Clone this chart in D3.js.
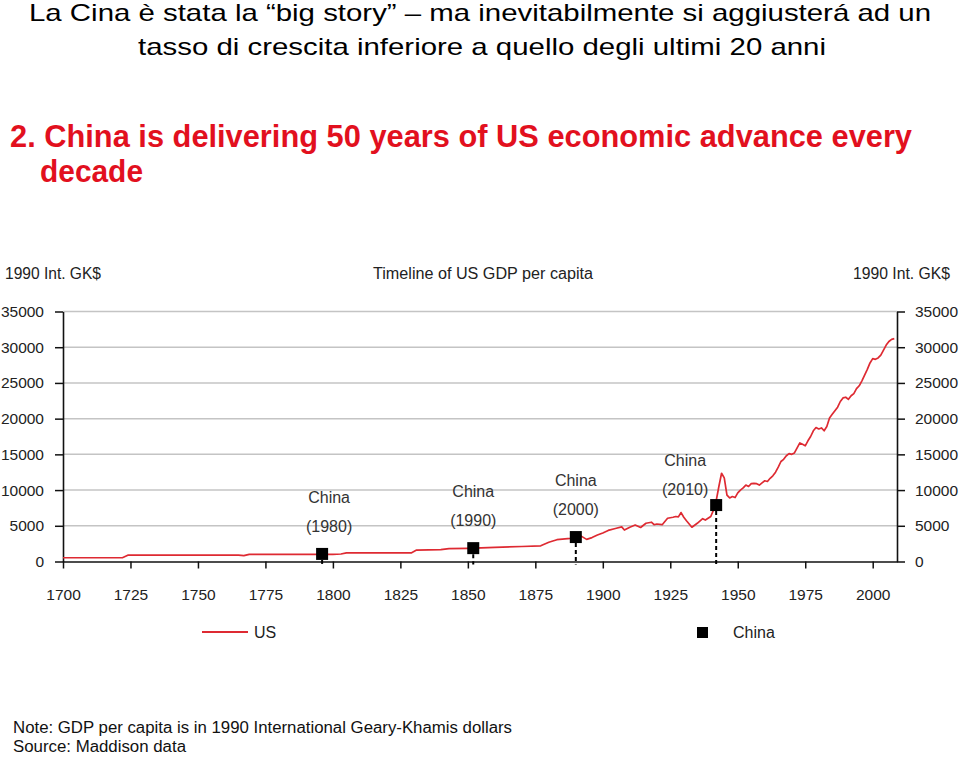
<!DOCTYPE html>
<html>
<head>
<meta charset="utf-8">
<script src="https://cdn.jsdelivr.net/npm/d3@7"></script>
<style>
  html, body { margin: 0; padding: 0; background: #fff; }
  svg { display: block; }
  text { font-family: "Liberation Sans", Arial, sans-serif; }
</style>
</head>
<body>
<svg id="chart" width="960" height="759"></svg>
<script>
// ---------- DATA ----------
const usYears = [1700,1722,1724,1765,1767,1769,1800,1803,1805,1829,1831,1840,1843,1850,1860,1870,1877,1880,1883,1888,1890,1892,1894,1896,1898,1900,1902,1905,1907,1908,1910,1912,1914,1916,1918,1919,1920,1922,1924,1926,1927,1928,1929,1930,1931,1933,1935,1937,1938,1940,1941,1942,1943,1944,1945,1946,1947,1948,1949,1950,1951,1952,1953,1954,1955,1956,1957,1958,1959,1960,1961,1962,1963,1964,1965,1966,1967,1968,1969,1970,1971,1972,1973,1974,1975,1976,1977,1978,1979,1980,1981,1982,1983,1984,1985,1986,1987,1988,1989,1990,1991,1992,1993,1994,1995,1996,1997,1998,1999,2000,2001,2002,2003,2004,2005,2006,2007,2008];
const usGdp = [527,527,880,880,820,1000,1000,1050,1200,1200,1600,1650,1800,1850,1990,2100,2200,2700,3050,3250,3400,3550,3100,3350,3700,4000,4350,4650,4850,4400,4800,5100,4760,5350,5500,5150,5250,5150,6050,6200,6300,6250,6850,6200,5700,4800,5350,6000,5800,6300,7200,8500,10500,12350,11700,9300,8900,9100,8950,9600,10000,10300,10700,10500,10900,10950,10900,10700,11000,11300,11200,11650,12000,12500,13200,14000,14300,14800,15100,15000,15200,15900,16600,16400,16200,16900,17500,18300,18750,18550,18700,18300,18900,20100,20600,21100,21600,22400,22900,23000,22700,23200,23500,24200,24600,25300,26100,26900,27800,28400,28300,28500,28900,29600,30300,30800,31100,31200];

const chinaLabels = ["(1980)","(1990)","(2000)","(2010)"];
const chinaUsYear = [1796,1852,1890,1942];
const chinaGdp = [1061,1871,3421,7900];

const yTicks = [0,5000,10000,15000,20000,25000,30000,35000];
const xTicks = [1700,1725,1750,1775,1800,1825,1850,1875,1900,1925,1950,1975,2000];

const titleLines = ["La Cina è stata la “big story” – ma inevitabilmente si aggiusterá ad un",
                    "tasso di crescita inferiore a quello degli ultimi 20 anni"];
const redTitleLines = ["2. China is delivering 50 years of US economic advance every", "decade"];
const notes = ["Note: GDP per capita is in 1990 International Geary-Khamis dollars", "Source: Maddison data"];

// ---------- SETUP ----------
const svg = d3.select("#chart");
const x = d3.scaleLinear().domain([1700, 2009]).range([63, 897]);
const y = d3.scaleLinear().domain([0, 35000]).range([561.5, 311.5]);

const RED = "#e2101e";
const LINE_RED = "#de2a32";
const TXT = "#222";

// Titles
svg.append("text").attr("x", 480).attr("y", 21).attr("text-anchor", "middle")
  .attr("font-size", 24).attr("fill", "#000")
  .attr("textLength", 902).attr("lengthAdjust", "spacingAndGlyphs")
  .text(titleLines[0]);
svg.append("text").attr("x", 482).attr("y", 55).attr("text-anchor", "middle")
  .attr("font-size", 24).attr("fill", "#000")
  .attr("textLength", 688).attr("lengthAdjust", "spacingAndGlyphs")
  .text(titleLines[1]);

svg.append("text").attr("x", 10).attr("y", 147)
  .attr("font-size", 32).attr("font-weight", "bold").attr("fill", RED)
  .attr("textLength", 902).attr("lengthAdjust", "spacingAndGlyphs")
  .text(redTitleLines[0]);
svg.append("text").attr("x", 40).attr("y", 182)
  .attr("font-size", 32).attr("font-weight", "bold").attr("fill", RED)
  .attr("textLength", 103).attr("lengthAdjust", "spacingAndGlyphs")
  .text(redTitleLines[1]);

// Axis titles
svg.append("text").attr("x", 5).attr("y", 279).attr("font-size", 16).attr("fill", TXT)
  .attr("textLength", 96).attr("lengthAdjust", "spacingAndGlyphs").text("1990 Int. GK$");
svg.append("text").attr("x", 853).attr("y", 279).attr("font-size", 16).attr("fill", TXT)
  .attr("textLength", 97).attr("lengthAdjust", "spacingAndGlyphs").text("1990 Int. GK$");
svg.append("text").attr("x", 373).attr("y", 279).attr("font-size", 16).attr("fill", TXT)
  .attr("textLength", 220).attr("lengthAdjust", "spacingAndGlyphs").text("Timeline of US GDP per capita");

// Gridlines
svg.append("g").selectAll("line").data(yTicks.filter(d => d > 0)).join("line")
  .attr("x1", x.range()[0]).attr("x2", x.range()[1])
  .attr("y1", d => y(d)).attr("y2", d => y(d))
  .attr("stroke", "#c4c4c4").attr("stroke-width", 1.5);

// Axes
function styleAxis(g) {
  g.selectAll("path.domain").attr("stroke", "#111").attr("stroke-width", 1.6);
  g.selectAll(".tick line").attr("stroke", "#111").attr("stroke-width", 1.5);
  g.selectAll(".tick text").attr("fill", TXT).attr("font-size", 15.5)
    .attr("font-family", "'Liberation Sans', Arial, sans-serif");
}
svg.append("g").attr("transform", `translate(${x.range()[0]},0)`)
  .call(d3.axisLeft(y).tickValues(yTicks).tickFormat(d3.format("d")).tickSize(8).tickSizeOuter(0).tickPadding(11))
  .call(styleAxis);
svg.append("g").attr("transform", `translate(${x.range()[1]},0)`)
  .call(d3.axisRight(y).tickValues(yTicks).tickFormat(d3.format("d")).tickSize(8).tickSizeOuter(0).tickPadding(10))
  .call(styleAxis);
svg.append("g").attr("transform", `translate(0,${y(0)})`)
  .call(d3.axisBottom(x).tickValues(xTicks).tickFormat(d3.format("d")).tickSize(7).tickSizeOuter(0).tickPadding(20))
  .call(styleAxis);

// US line
const usData = usYears.map((yr, i) => ({ year: yr, v: usGdp[i] }));
svg.append("path").datum(usData)
  .attr("fill", "none").attr("stroke", LINE_RED).attr("stroke-width", 1.7)
  .attr("stroke-linejoin", "round")
  .attr("d", d3.line().x(d => x(d.year)).y(d => y(d.v)));

// China markers
const chinaData = chinaUsYear.map((yr, i) => ({ year: yr, v: chinaGdp[i], label: chinaLabels[i] }));
const labelShift = [{dx: 7, dy: 0}, {dx: 0, dy: 0}, {dx: 0, dy: 0}, {dx: -31, dy: 12}];
const SQ = 12;
const cg = svg.append("g");
cg.selectAll("line.drop").data(chinaData).join("line").attr("class", "drop")
  .attr("x1", d => x(d.year)).attr("x2", d => x(d.year))
  .attr("y1", d => y(d.v) + SQ / 2).attr("y2", y(0) + 3)
  .attr("stroke", "#000").attr("stroke-width", 2).attr("stroke-dasharray", "4,3");
cg.selectAll("rect").data(chinaData).join("rect")
  .attr("x", d => x(d.year) - SQ / 2).attr("y", d => y(d.v) - SQ / 2)
  .attr("width", SQ).attr("height", SQ).attr("fill", "#000");
cg.selectAll("text.cn").data(chinaData).join("text").attr("class", "cn")
  .attr("x", (d, i) => x(d.year) + labelShift[i].dx)
  .attr("y", (d, i) => y(d.v) - 51 + labelShift[i].dy)
  .attr("text-anchor", "middle").attr("font-size", 16).attr("fill", "#333")
  .text("China");
cg.selectAll("text.yr").data(chinaData).join("text").attr("class", "yr")
  .attr("x", (d, i) => x(d.year) + labelShift[i].dx)
  .attr("y", (d, i) => y(d.v) - 22 + labelShift[i].dy)
  .attr("text-anchor", "middle").attr("font-size", 16).attr("fill", "#333")
  .text(d => d.label);

// Legend
svg.append("line").attr("x1", 202).attr("x2", 248).attr("y1", 632).attr("y2", 632)
  .attr("stroke", LINE_RED).attr("stroke-width", 1.8);
svg.append("text").attr("x", 254).attr("y", 638).attr("font-size", 16).attr("fill", TXT).text("US");
svg.append("rect").attr("x", 697).attr("y", 627).attr("width", 11).attr("height", 11).attr("fill", "#000");
svg.append("text").attr("x", 733).attr("y", 638).attr("font-size", 16).attr("fill", TXT).text("China");

// Notes
svg.append("text").attr("x", 13).attr("y", 733).attr("font-size", 16).attr("fill", "#111")
  .attr("textLength", 499).attr("lengthAdjust", "spacingAndGlyphs").text(notes[0]);
svg.append("text").attr("x", 13).attr("y", 752).attr("font-size", 16).attr("fill", "#111")
  .attr("textLength", 173).attr("lengthAdjust", "spacingAndGlyphs").text(notes[1]);
</script>
</body>
</html>
